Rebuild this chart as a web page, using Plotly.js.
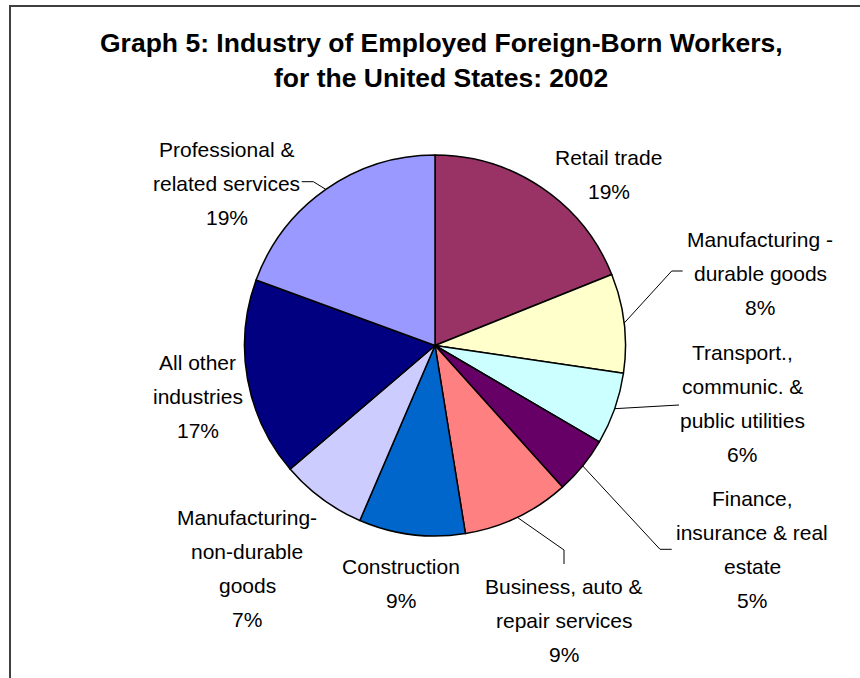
<!DOCTYPE html>
<html>
<head>
<meta charset="utf-8">
<script src="https://cdn.plot.ly/plotly-3.0.1.min.js"></script>
<style>html,body{margin:0;padding:0;background:#fff;overflow:hidden;width:860px;height:678px;}#chart{width:860px;height:678px;overflow:hidden;}</style>
</head>
<body>
<div id="chart"></div>
<script>
// ---- Data ----
const categories = [
  "Retail trade",
  "Manufacturing - durable goods",
  "Transport., communic. & public utilities",
  "Finance, insurance & real estate",
  "Business, auto & repair services",
  "Construction",
  "Manufacturing-non-durable goods",
  "All other industries",
  "Professional & related services"
];
const values = [18.9, 8.4, 6.1, 4.9, 9.1, 9.0, 7.3, 16.8, 19.4];
const colors = ["#993366", "#FFFFCC", "#CCFFFF", "#660066", "#FF8080", "#0066CC", "#CCCCFF", "#000080", "#9999FF"];
const labelLines = [
  ["Retail trade"],
  ["Manufacturing -", "durable goods"],
  ["Transport.,", "communic. &", "public utilities"],
  ["Finance,", "insurance & real", "estate"],
  ["Business, auto &", "repair services"],
  ["Construction"],
  ["Manufacturing-", "non-durable", "goods"],
  ["All other", "industries"],
  ["Professional &", "related services"]
];
const titleLines = ["Graph 5: Industry of Employed Foreign-Born Workers,", "for the United States: 2002"];

// ---- Layout helpers (pixel geometry) ----
const W = 860, H = 678;
const px = x => x / W;
const py = y => 1 - y / H;
const CX = 435, CY = 345.5, R = 190.5;
const FONT = "Liberation Sans, Arial, sans-serif";
const LBL_SIZE = 21, LINE_GAP = 34;
const TITLE_SIZE = 26.5;

// label anchor: [center x, first baseline y]
const labelPos = [
  [608.5, 164.3], [760, 246.7], [742, 360], [752, 505.7], [564, 593.3],
  [401, 573.3], [247, 525], [197.5, 370], [226.5, 156.7]
];
// leader line elbows (pixel), keyed by slice index
const leaders = {
  8: [[313.3, 181.7], [301.7, 181.7]],
  1: [[671.7, 271], [682.7, 271]],
  2: [[679, 405]],
  3: [[660, 549.3], [671.7, 549.3]],
  4: [[564, 550], [564, 564]]
};

const total = values.reduce((a, b) => a + b, 0);
const annotations = [];
const shapes = [];

// title
titleLines.forEach((t, i) => {
  annotations.push({
    text: "<b>" + t + "</b>", x: px(441), y: py(52.3 + i * 34.5 - 0.3465 * TITLE_SIZE),
    xref: "paper", yref: "paper", xanchor: "center", yanchor: "middle",
    showarrow: false, font: {family: FONT, size: TITLE_SIZE, color: "#000"}
  });
});

// slice labels
let cum = 0;
values.forEach((v, i) => {
  const pct = Math.round(v / total * 100) + "%";
  const lines = labelLines[i].concat([pct]);
  const [lx, ly] = labelPos[i];
  lines.forEach((t, j) => {
    annotations.push({
      text: t, x: px(lx), y: py(ly + j * LINE_GAP - 0.3465 * LBL_SIZE),
      xref: "paper", yref: "paper", xanchor: "center", yanchor: "middle",
      showarrow: false, font: {family: FONT, size: LBL_SIZE, color: "#000"}
    });
  });
  const mid = (cum + v / 2) / total * 2 * Math.PI;
  cum += v;
  if (leaders[i]) {
    const pts = [[CX + R * Math.sin(mid), CY - R * Math.cos(mid)]].concat(leaders[i]);
    const path = pts.map((p, k) => (k ? "L" : "M") + px(p[0]) + "," + py(p[1])).join(" ");
    shapes.push({type: "path", xref: "paper", yref: "paper", path: path,
      line: {color: "#000", width: 1}});
  }
});

// outer frame (top and left edges visible; right/bottom run off the picture)
shapes.push({type: "line", xref: "paper", yref: "paper",
  x0: px(9), y0: py(6), x1: px(870), y1: py(6), line: {color: "#404040", width: 2}});
shapes.push({type: "line", xref: "paper", yref: "paper",
  x0: px(10), y0: py(5), x1: px(10), y1: py(690), line: {color: "#404040", width: 2}});

const trace = {
  type: "pie",
  labels: categories,
  values: values,
  sort: false,
  direction: "clockwise",
  rotation: 0,
  textinfo: "none",
  hoverinfo: "label+percent",
  marker: {colors: colors, line: {color: "#000", width: 1.5}},
  domain: {x: [px(CX - R), px(CX + R)], y: [py(CY + R), py(CY - R)]},
  showlegend: false
};

const layout = {
  width: W, height: H,
  margin: {l: 0, r: 0, t: 0, b: 0},
  paper_bgcolor: "#fff",
  showlegend: false,
  annotations: annotations,
  shapes: shapes
};

Plotly.newPlot("chart", [trace], layout, {displayModeBar: false, staticPlot: true});
</script>
</body>
</html>
